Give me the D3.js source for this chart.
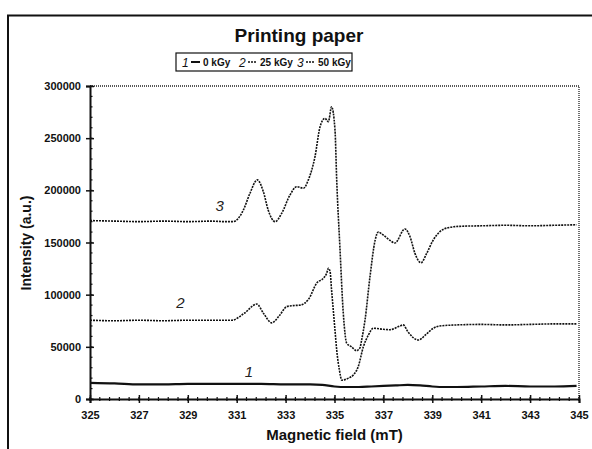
<!DOCTYPE html>
<html>
<head>
<script src="https://d3js.org/d3.v7.min.js"></script>
<style>
body { margin: 0; background: #fff; }
text { font-family: "Liberation Sans", Arial, sans-serif; }
</style>
</head>
<body>
<svg id="chart" width="592" height="449"></svg>
<script>

// Curve 1 - 0 kGy
const field1 = [325, 326, 327, 328, 329, 330, 331, 332, 333, 334, 334.5, 335, 335.5, 336, 336.5, 337, 337.5, 338, 338.5, 339, 339.5, 340, 341, 342, 343, 344, 344.9];
const int1 = [15500, 15000, 14000, 14000, 14500, 14500, 14500, 14500, 14000, 14000, 13500, 12000, 11500, 11500, 12000, 12500, 13000, 13500, 13000, 12000, 11500, 11500, 12000, 12500, 12000, 12000, 12500];

// Curve 2 - 25 kGy
const field2 = [325, 326, 327, 328, 329, 330, 330.8, 331.3, 331.82, 332.1, 332.43, 332.75, 333.04, 333.3, 333.6, 333.95, 334.27, 334.54, 334.68, 334.75, 334.82, 334.88, 334.95, 335.02, 335.09, 335.2, 335.3, 335.57, 335.77, 335.97, 336.18, 336.38, 336.59, 337.0, 337.27, 337.68, 337.81, 338.0, 338.43, 338.75, 339.04, 339.3, 340, 341, 342, 343, 344, 344.9];
const int2 = [75500, 75000, 75500, 75000, 75500, 75500, 75500, 82000, 91000, 82000, 73000, 80000, 88500, 89500, 90000, 96000, 111000, 115700, 120500, 125300, 122000, 104500, 85300, 66000, 47000, 27800, 18000, 20000, 23000, 31000, 50000, 61000, 67800, 66800, 66400, 70000, 71000, 64500, 56500, 62000, 67800, 70000, 71000, 71500, 71000, 71500, 72000, 72000];

// Curve 3 - 50 kGy
const field3 = [325, 326, 327, 328, 329, 330, 330.5, 330.86, 331.27, 331.54, 331.84, 332.09, 332.29, 332.57, 332.84, 333.18, 333.45, 333.73, 333.93, 334.2, 334.41, 334.61, 334.75, 334.88, 335.02, 335.09, 335.22, 335.36, 335.5, 335.7, 335.9, 336.04, 336.11, 336.25, 336.45, 336.66, 336.79, 337.0, 337.27, 337.47, 337.88, 338.09, 338.29, 338.54, 338.77, 339.04, 339.31, 339.65, 340.13, 341, 342, 343, 344, 344.9];
const int3 = [171000, 170500, 170000, 170500, 170000, 170500, 170000, 170000, 181000, 197000, 210000, 198700, 181000, 170000, 178000, 195500, 203500, 202000, 210000, 232000, 261000, 269000, 265800, 280000, 258000, 210000, 146000, 82000, 53400, 50000, 46300, 49000, 56500, 76000, 117000, 152000, 160000, 157000, 152000, 149500, 163000, 155500, 139600, 130600, 139600, 152400, 160400, 164200, 165500, 166000, 166500, 166000, 166500, 167000];

const seriesNames = ["1", "2", "3"];
const seriesLabels = ["0 kGy", "25 kGy", "50 kGy"];
const xTicks = [325, 327, 329, 331, 333, 335, 337, 339, 341, 343, 345];
const yTicks = [0, 50000, 100000, 150000, 200000, 250000, 300000];

const svg = d3.select("#chart");
const margin = {left: 90, right: 13, top: 86, bottom: 50};
const W = 592, H = 449;

const x = d3.scaleLinear().domain([325, 345]).range([margin.left, W - margin.right]);
const y = d3.scaleLinear().domain([0, 300000]).range([H - margin.bottom, margin.top]);

// outer frame
svg.append("path")
   .attr("d", `M8,${H} L8,15.5 L${W},15.5`)
   .attr("fill", "none").attr("stroke", "#111").attr("stroke-width", 2);

// plot border top/right (dotted)
svg.append("path")
   .attr("d", `M${x(325)},${y(300000)} L${x(345)},${y(300000)} L${x(345)},${y(0)}`)
   .attr("fill", "none").attr("stroke", "#222").attr("stroke-width", 1.3)
   .attr("stroke-dasharray", "1,1");

// axes
const xAxis = svg.append("g").attr("transform", `translate(0,${y(0)})`)
   .call(d3.axisBottom(x).tickValues(xTicks).tickFormat(d3.format("d")).tickSize(4).tickPadding(8));
const xMinor = d3.range(325, 345.01, 0.4);
svg.append("g").selectAll("line").data(xMinor).join("line")
   .attr("x1", d => x(d)).attr("x2", d => x(d))
   .attr("y1", y(0) - 2).attr("y2", y(0) + 2)
   .attr("stroke", "#111").attr("stroke-width", 1.2);

const yAxis = svg.append("g").attr("transform", `translate(${x(325)},0)`)
   .call(d3.axisLeft(y).tickValues(yTicks).tickFormat(d3.format("d")).tickSize(4).tickPadding(5));
const yMinor = d3.range(0, 300001, 10000);
svg.append("g").selectAll("line").data(yMinor).join("line")
   .attr("x1", x(325)).attr("x2", x(325) + 2.5)
   .attr("y1", d => y(d)).attr("y2", d => y(d))
   .attr("stroke", "#111").attr("stroke-width", 1.2);

[xAxis, yAxis].forEach(a => {
  a.select(".domain").attr("stroke", "#111").attr("stroke-width", 2);
  a.selectAll(".tick line").attr("stroke", "#111").attr("stroke-width", 1.5);
  a.selectAll(".tick text").attr("font-size", 11).attr("font-weight", "bold")
   .attr("fill", "#111").attr("font-family", "Liberation Sans, Arial, sans-serif");
});
yAxis.selectAll(".tick line").attr("x2", 4).attr("x1", -4);
xAxis.selectAll(".tick line").attr("y1", -4);

// curves
const line = d3.line().x(d => x(d[0])).y(d => y(d[1])).curve(d3.curveMonotoneX);
const series = [
  {pts: d3.zip(field1, int1), width: 2.2, dash: null},
  {pts: d3.zip(field2, int2), width: 1.6, dash: "2,1"},
  {pts: d3.zip(field3, int3), width: 1.6, dash: "2,1"}
];
svg.append("g").selectAll("path").data(series).join("path")
   .attr("d", d => line(d.pts))
   .attr("fill", "none").attr("stroke", "#111")
   .attr("stroke-width", d => d.width)
   .attr("stroke-dasharray", d => d.dash);

// curve numbers
const numPos = [[331.5, 21000], [328.7, 87000], [330.3, 180000]];
svg.append("g").selectAll("text").data(numPos).join("text")
   .attr("x", d => x(d[0])).attr("y", d => y(d[1]))
   .attr("text-anchor", "middle")
   .attr("font-size", 15).attr("font-style", "italic").attr("fill", "#222")
   .text((d, i) => seriesNames[i]);

// title
svg.append("text").attr("x", 299).attr("y", 42).attr("text-anchor", "middle")
   .attr("font-size", 19).attr("font-weight", "bold").attr("fill", "#111")
   .text("Printing paper");

// legend
const lg = svg.append("g").attr("transform", "translate(176,53)");
lg.append("rect").attr("width", 176).attr("height", 18)
  .attr("fill", "none").attr("stroke", "#111").attr("stroke-width", 1.2);
const legX = [6, 63, 121];
seriesLabels.forEach((lab, i) => {
  const g = lg.append("g").attr("transform", `translate(${legX[i]},0)`);
  g.append("text").attr("x", 0).attr("y", 13.5).attr("font-size", 12)
   .attr("font-style", "italic").attr("fill", "#111").text(seriesNames[i]);
  g.append("line").attr("x1", 9).attr("x2", 18).attr("y1", 9).attr("y2", 9)
   .attr("stroke", "#111").attr("stroke-width", i === 0 ? 2 : 1.5)
   .attr("stroke-dasharray", i === 0 ? null : "2,1");
  g.append("text").attr("x", 21).attr("y", 13).attr("font-size", 10)
   .attr("font-weight", "bold").attr("fill", "#111").text(lab);
});

// axis titles
svg.append("text").attr("x", x(335)).attr("y", 440).attr("text-anchor", "middle")
   .attr("font-size", 15).attr("font-weight", "bold").attr("fill", "#111")
   .text("Magnetic field (mT)");
svg.append("text").attr("transform", "translate(31,243) rotate(-90)")
   .attr("text-anchor", "middle")
   .attr("font-size", 14).attr("font-weight", "bold").attr("fill", "#111")
   .text("Intensity (a.u.)");

</script>
</body>
</html>
